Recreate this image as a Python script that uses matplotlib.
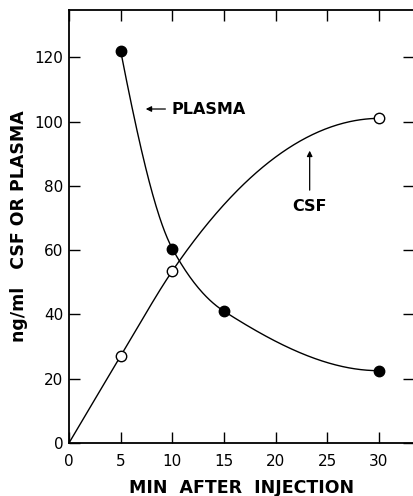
import numpy as np
import matplotlib
matplotlib.use("Agg")
import matplotlib.pyplot as plt


# data
plasma_min = [5, 10, 15, 30]
plasma_ng = [122, 60.5, 41, 22.5]

csf_min = [0, 5, 10, 30]
csf_ng = [0, 27, 53.5, 101]
csf_marked = [5, 10, 30]   # open circles drawn only at these times

x_ticks = [0, 5, 10, 15, 20, 25, 30]
y_ticks = [0, 20, 40, 60, 80, 100, 120]


def smooth(x, y, xs, harmonic=True):
    # cubic Hermite through the points (french-curve look)
    # harmonic=True -> PCHIP slopes, else parabolic (Bessel) slopes
    x = np.asarray(x, float)
    y = np.asarray(y, float)
    h = np.diff(x)
    d = np.diff(y) / h
    n = len(x)
    m = np.zeros(n)
    for k in range(1, n - 1):
        if harmonic:
            if d[k - 1] * d[k] > 0:
                w1 = 2 * h[k] + h[k - 1]
                w2 = h[k] + 2 * h[k - 1]
                m[k] = (w1 + w2) / (w1 / d[k - 1] + w2 / d[k])
        else:
            m[k] = (d[k - 1] * h[k] + d[k] * h[k - 1]) / (h[k - 1] + h[k])

    def end(h0, h1, d0, d1):
        s = ((2 * h0 + h1) * d0 - h0 * d1) / (h0 + h1)
        if np.sign(s) != np.sign(d0):
            s = 0.0
        return s

    m[0] = end(h[0], h[1], d[0], d[1])
    m[-1] = end(h[-1], h[-2], d[-1], d[-2])

    idx = np.clip(np.searchsorted(x, xs) - 1, 0, n - 2)
    t = (xs - x[idx]) / h[idx]
    h00 = 2 * t**3 - 3 * t**2 + 1
    h10 = t**3 - 2 * t**2 + t
    h01 = -2 * t**3 + 3 * t**2
    h11 = t**3 - t**2
    return (h00 * y[idx] + h10 * h[idx] * m[idx]
            + h01 * y[idx + 1] + h11 * h[idx] * m[idx + 1])


plt.rcParams["font.family"] = ["DejaVu Sans"]

fig = plt.figure(figsize=(4.14, 4.96), dpi=100)
ax = fig.add_axes([69 / 414, 1 - 443 / 496, 1 - 69 / 414, (443 - 10) / 496])

xs = np.linspace(plasma_min[0], plasma_min[-1], 300)
ax.plot(xs, smooth(plasma_min, plasma_ng, xs), color="black", lw=1.0)
ax.plot(plasma_min, plasma_ng, "o", color="black", ms=7.5)

xs = np.linspace(csf_min[0], csf_min[-1], 300)
ax.plot(xs, smooth(csf_min, csf_ng, xs, harmonic=False), color="black", lw=1.0)
csf_pts = [csf_ng[csf_min.index(t)] for t in csf_marked]
ax.plot(csf_marked, csf_pts, "o", mfc="white", mec="black", mew=1.0, ms=7.5)

ax.set_xlim(0, 33.4)
ax.set_ylim(0, 134.7)
ax.set_xticks(x_ticks)
ax.set_yticks(y_ticks)

ax.tick_params(direction="in", length=8, width=1.0, labelsize=11,
               top=True, right=True)
ax.tick_params(axis="x", pad=8)
ax.tick_params(axis="y", pad=4)

for s in ax.spines.values():
    s.set_linewidth(1.3)
ax.spines["right"].set_visible(False)

ax.set_xlabel("MIN  AFTER  INJECTION", fontsize=12.5, fontweight="bold",
              labelpad=7)
ax.set_ylabel("ng/ml   CSF OR PLASMA", fontsize=12.5, fontweight="bold",
              labelpad=5)

# arrows and labels
ax.annotate("", xy=(7.16, 103.9), xytext=(9.6, 103.9),
            arrowprops=dict(arrowstyle="-|>", color="black", lw=0.9,
                            mutation_scale=8))
ax.text(9.95, 103.9, "PLASMA", fontsize=11.5, fontweight="bold",
        ha="left", va="center")

ax.annotate("", xy=(23.3, 91.8), xytext=(23.3, 77.8),
            arrowprops=dict(arrowstyle="-|>", color="black", lw=0.9,
                            mutation_scale=8))
ax.text(23.3, 73.7, "CSF", fontsize=11.5, fontweight="bold",
        ha="center", va="center")

fig.savefig("out.png", dpi=100)
